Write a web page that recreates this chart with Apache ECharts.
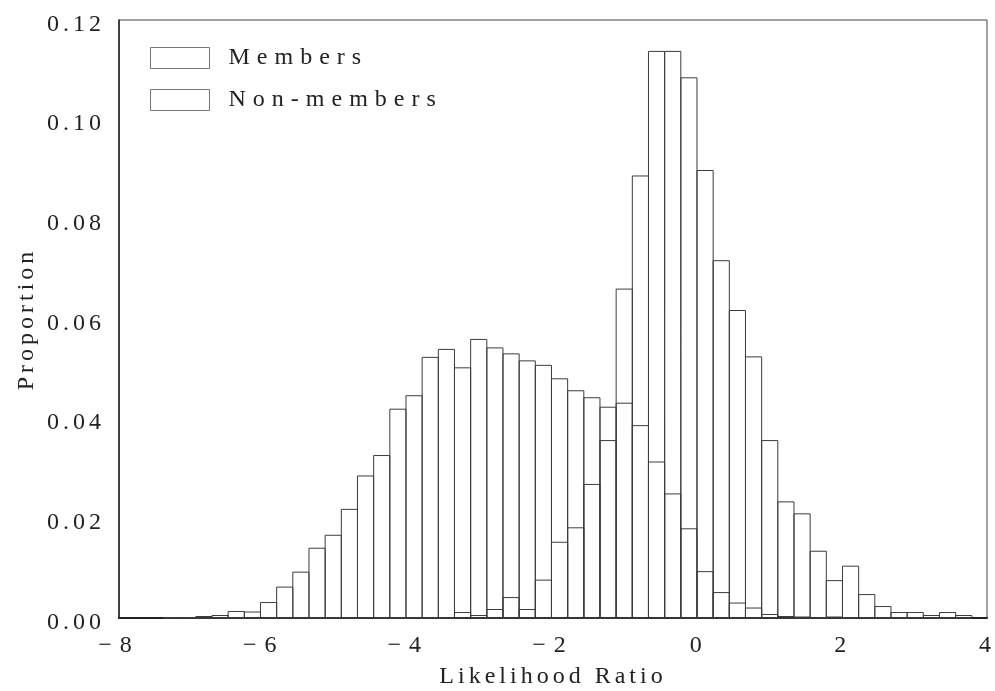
<!DOCTYPE html>
<html>
<head>
<meta charset="utf-8">
<script src="https://cdn.jsdelivr.net/npm/echarts@6/dist/echarts.min.js"></script>
<style>
html,body{margin:0;padding:0;background:#fff;}
#chart{width:995px;height:691px;}
</style>
</head>
<body>
<div id="chart"></div>
<script>
// Histogram bins (Likelihood Ratio)
const binStart = -7.385;
const binWidth = 0.2235;
const binCount = 50;

// Proportions per bin
const members = [
  0, 0, 0, 0, 0, 0, 0, 0, 0, 0,
  0, 0, 0, 0, 0, 0, 0, 0, 0.0011, 0.0005,
  0.0017, 0.0041, 0.0017, 0.0076, 0.0152, 0.0181, 0.0268, 0.0356, 0.0660, 0.0887,
  0.1137, 0.1137, 0.1084, 0.0898, 0.0717, 0.0617, 0.0524, 0.0356, 0.0233, 0.0209,
  0.0134, 0.0075, 0.0104, 0.0047, 0.0023, 0.0011, 0.0011, 0.0005, 0.0011, 0.0005
];
const nonMembers = [
  0.0001, 0.0001, 0.0003, 0.0005, 0.0013, 0.0012, 0.0031, 0.0062, 0.0092, 0.0140,
  0.0166, 0.0218, 0.0285, 0.0326, 0.0419, 0.0446, 0.0523, 0.0539, 0.0502, 0.0559,
  0.0542, 0.0530, 0.0516, 0.0507, 0.0480, 0.0456, 0.0442, 0.0423, 0.0431, 0.0386,
  0.0313, 0.0249, 0.0179, 0.0093, 0.0051, 0.0030, 0.0020, 0.0007, 0.0003, 0.0002,
  0.0001, 0.0002, 0, 0, 0, 0, 0, 0, 0, 0
];
const seriesNames = ['Members', 'Non-members'];
const xTicks = [-8, -6, -4, -2, 0, 2, 4];
const yTicks = [0, 0.02, 0.04, 0.06, 0.08, 0.10, 0.12];

function toBins(vals) {
  return vals.map((v, i) => [binStart + i * binWidth, binStart + (i + 1) * binWidth, v]);
}

// Letter spacing for the spaced-out typography of the original figure
function spacingFor(text) {
  const s = String(text);
  if (s === seriesNames[0] || s === seriesNames[1]) return '7px';
  if (s.charAt(0) === '\u2212') return '8px';
  return '4px';
}
(function () {
  const proto = CanvasRenderingContext2D.prototype;
  if (!('letterSpacing' in proto)) return;
  const origFill = proto.fillText;
  proto.fillText = function (text, x, y, maxWidth) {
    const prev = this.letterSpacing;
    this.letterSpacing = spacingFor(text);
    if (arguments.length > 3 && maxWidth != null) origFill.call(this, text, x, y, maxWidth);
    else origFill.call(this, text, x, y);
    this.letterSpacing = prev;
  };
})();

const FONT = 'Liberation Serif';
const TXT = '#222';

function renderBar(params, api) {
  const lo = api.value(0), hi = api.value(1), v = api.value(2);
  const p0 = api.coord([lo, v]);
  const p1 = api.coord([hi, 0]);
  return {
    type: 'rect',
    shape: { x: p0[0], y: p0[1], width: p1[0] - p0[0], height: p1[1] - p0[1] },
    style: { fill: 'none', stroke: '#3c3c3c', lineWidth: 1 }
  };
}

const chart = echarts.init(document.getElementById('chart'), null, { renderer: 'canvas' });
chart.setOption({
  animation: false,
  backgroundColor: '#fff',
  grid: {
    left: 119, right: 8, top: 20, bottom: 73,
    outerBoundsMode: 'none', containLabel: false,
    show: true, borderColor: '#444', borderWidth: 1, backgroundColor: 'transparent'
  },
  legend: {
    orient: 'vertical',
    left: 145, top: 41,
    icon: 'rect',
    itemWidth: 59, itemHeight: 21, itemGap: 18,
    itemStyle: { color: '#fff', borderColor: '#777', borderWidth: 1 },
    textStyle: { fontFamily: FONT, fontSize: 24, color: TXT, padding: [0, 0, 0, 14] },
    data: seriesNames
  },
  xAxis: {
    type: 'value', min: -8, max: 4, interval: 2,
    name: 'Likelihood Ratio', nameLocation: 'middle', nameGap: 47,
    nameTextStyle: { fontFamily: FONT, fontSize: 24, color: TXT },
    axisLine: { show: true, onZero: false, lineStyle: { color: '#222', width: 2 } },
    axisTick: { show: false },
    splitLine: { show: false },
    axisLabel: {
      fontFamily: FONT, fontSize: 24, color: TXT, margin: 16,
      formatter: v => (v < 0 ? '\u2212' + Math.abs(v) : String(v))
    }
  },
  yAxis: {
    type: 'value', min: 0, max: 0.12, interval: 0.02,
    name: 'Proportion', nameLocation: 'middle', nameGap: 80,
    nameTextStyle: { fontFamily: FONT, fontSize: 24, color: TXT },
    axisLine: { show: true, onZero: false, lineStyle: { color: '#222', width: 1.5 } },
    axisTick: { show: false },
    splitLine: { show: false },
    axisLabel: {
      fontFamily: FONT, fontSize: 24, color: TXT, margin: 14,
      verticalAlign: 'top', lineHeight: 9,
      formatter: v => v.toFixed(2)
    }
  },
  series: [
    {
      name: seriesNames[0], type: 'custom', renderItem: renderBar,
      itemStyle: { color: '#fff', borderColor: '#3c3c3c', borderWidth: 1 },
      encode: { x: [0, 1], y: 2 },
      data: toBins(members), z: 3
    },
    {
      name: seriesNames[1], type: 'custom', renderItem: renderBar,
      itemStyle: { color: '#fff', borderColor: '#3c3c3c', borderWidth: 1 },
      encode: { x: [0, 1], y: 2 },
      data: toBins(nonMembers), z: 3
    }
  ]
});
</script>
</body>
</html>
